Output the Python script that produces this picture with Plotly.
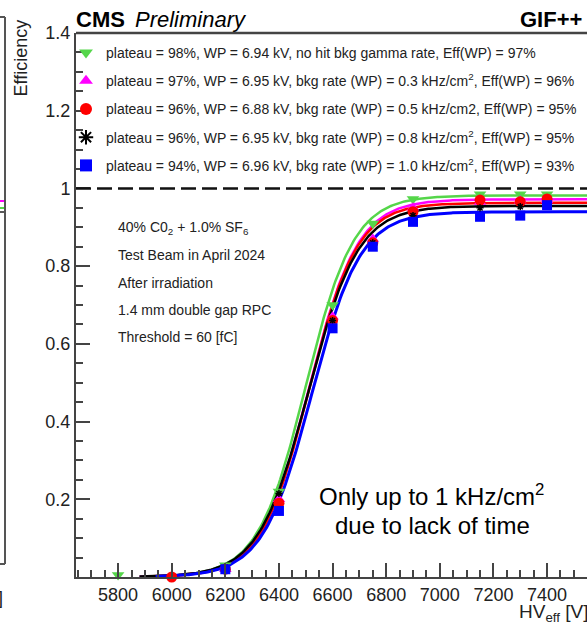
import numpy as np
import plotly.graph_objects as go

W, H = 587, 624
ML, MT, MB = 76, 33, 47          # plot area: x 76..587, y 33..577
PW, PH = W - ML, H - MT - MB

FONT = "Liberation Sans, Arial, Helvetica, sans-serif"
INK = "#222222"
AXC = "#444444"

# ---- measured efficiency points (HV_eff in V, efficiency) ----
hv_green = [5800, 6200, 6400, 6600, 6750, 6900, 7150, 7300, 7400]
eff_green = [0.005, 0.03, 0.22, 0.70, 0.91, 0.973, 0.985, 0.985, 0.985]

hv_magenta = [6200, 6400, 6600, 6750, 6900, 7150, 7300, 7400]
eff_magenta = [0.02, 0.20, 0.67, 0.87, 0.95, 0.965, 0.968, 0.97]

hv_red = [6000, 6200, 6400, 6600, 6750, 6900, 7150, 7300, 7400]
eff_red = [0.0, 0.02, 0.19, 0.66, 0.86, 0.94, 0.97, 0.966, 0.973]

hv_black = [6200, 6400, 6600, 6750, 6900, 7150, 7300, 7400]
eff_black = [0.025, 0.215, 0.66, 0.86, 0.93, 0.95, 0.953, 0.955]

hv_blue = [6200, 6400, 6600, 6750, 6900, 7150, 7300, 7400]
eff_blue = [0.02, 0.17, 0.64, 0.85, 0.914, 0.927, 0.93, 0.957]

# ---- sigmoid fit parameters: plateau, HV50 [V], slope [1/V], fit start [V] ----
fit_plateau = [0.982, 0.972, 0.963, 0.955, 0.940]
fit_hv50 = [6500, 6512, 6512, 6510, 6522]
fit_slope = [0.0112, 0.0110, 0.0112, 0.0108, 0.0110]
fit_start = [5880, 5880, 5900, 5880, 5940]

legend_labels = [
    "plateau = 98%, WP = 6.94 kV, no hit bkg gamma rate, Eff(WP) = 97%",
    "plateau = 97%, WP = 6.95 kV, bkg rate (WP) = 0.3 kHz/cm<sup>2</sup>, Eff(WP) = 96%",
    "plateau = 96%, WP = 6.88 kV, bkg rate (WP) = 0.5 kHz/cm2, Eff(WP) = 95%",
    "plateau = 96%, WP = 6.95 kV, bkg rate (WP) = 0.8 kHz/cm<sup>2</sup>, Eff(WP) = 95%",
    "plateau = 94%, WP = 6.96 kV, bkg rate (WP) = 1.0 kHz/cm<sup>2</sup>, Eff(WP) = 93%",
]
colors = ["#55d64a", "#ff00ff", "#ff0000", "#000000", "#0000ff"]
symbols = ["triangle-down", "triangle-up", "circle", "asterisk-open", "square"]
msizes = [11, 11, 11, 6, 10]

info_lines = [
    "40% C0<sub>2</sub> + 1.0% SF<sub>6</sub>",
    "Test Beam in April 2024",
    "After irradiation",
    "1.4 mm double gap RPC",
    "Threshold = 60 [fC]",
]

x_range = [5643, 7549]
y_range = [0, 1.4]

series = [
    (hv_green, eff_green),
    (hv_magenta, eff_magenta),
    (hv_red, eff_red),
    (hv_black, eff_black),
    (hv_blue, eff_blue),
]


def px(xp):
    return (xp - ML) / PW


def py(yp):
    return (MT + PH - yp) / PH


fig = go.Figure()

# fit curves
for i in range(5):
    xs = np.linspace(fit_start[i], x_range[1], 300)
    ys = fit_plateau[i] / (1 + np.exp(-fit_slope[i] * (xs - fit_hv50[i])))
    fig.add_trace(go.Scatter(
        x=xs, y=ys, mode="lines", showlegend=False, hoverinfo="skip",
        line=dict(color=colors[i], width=3 if i == 4 else 2.5),
    ))

# data points
for i, (xv, yv) in enumerate(series):
    mline = dict(color=colors[i], width=1.5) if symbols[i] == "asterisk-open" else dict(width=0)
    fig.add_trace(go.Scatter(
        x=xv, y=yv, mode="markers", name=legend_labels[i],
        legendgroup=f"g{i}", cliponaxis=False,
        marker=dict(symbol=symbols[i], size=msizes[i], color=colors[i], line=mline),
    ))

shapes = [
    # reference line at 100 %
    dict(type="line", xref="paper", yref="y", x0=0, x1=1, y0=1, y1=1,
         line=dict(color="#111111", width=2.5, dash="15px,6px")),
    # top frame
    dict(type="line", xref="paper", yref="paper", x0=0, x1=1, y0=1, y1=1,
         line=dict(color=AXC, width=2.5)),
    # neighbouring pad edge on the left
    dict(type="line", xref="paper", yref="paper", x0=px(5), x1=px(5), y0=py(17), y1=py(564),
         line=dict(color="#555555", width=2)),
    dict(type="line", xref="paper", yref="paper", x0=px(0), x1=px(5), y0=py(17), y1=py(17),
         line=dict(color="#555555", width=2)),
    dict(type="line", xref="paper", yref="paper", x0=px(0), x1=px(5), y0=py(564), y1=py(564),
         line=dict(color="#555555", width=2)),
    dict(type="line", xref="paper", yref="paper", x0=px(0), x1=px(4), y0=py(201), y1=py(201),
         line=dict(color="#ff00ff", width=2)),
    dict(type="line", xref="paper", yref="paper", x0=px(0), x1=px(4), y0=py(208), y1=py(208),
         line=dict(color="#55d64a", width=2)),
    dict(type="line", xref="paper", yref="paper", x0=px(0), x1=px(4), y0=py(212), y1=py(212),
         line=dict(color="#222222", width=1.5)),
]

ann = []
ann.append(dict(text="<b>CMS</b>", x=px(74), y=py(19), xanchor="left", yanchor="middle",
                font=dict(size=22, color="#000")))
ann.append(dict(text="<i>Preliminary</i>", x=px(133), y=py(19), xanchor="left", yanchor="middle",
                font=dict(size=22, color="#000")))
ann.append(dict(text="<b>GIF++</b>", x=px(584), y=py(19), xanchor="right", yanchor="middle",
                font=dict(size=22, color="#000")))
ann.append(dict(text="Efficiency", x=px(21), y=py(18), xanchor="center", yanchor="top",
                textangle=-90, font=dict(size=18, color=INK)))
ann.append(dict(text="HV<sub>eff</sub> [V]", x=px(590), y=py(613), xanchor="right", yanchor="middle",
                font=dict(size=19, color=INK)))
ann.append(dict(text="]", x=px(5), y=py(598), xanchor="right", yanchor="middle",
                font=dict(size=18, color=INK)))
for k, line in enumerate(info_lines):
    ann.append(dict(text=line, x=px(116), y=py(228 + 27.3 * k), xanchor="left", yanchor="middle",
                    font=dict(size=14, color=INK)))
ann.append(dict(text="Only up to 1 kHz/cm<sup>2</sup>", x=px(431), y=py(495), xanchor="center",
                yanchor="middle", font=dict(size=24, color="#000")))
ann.append(dict(text="due to lack of time", x=px(432), y=py(525), xanchor="center",
                yanchor="middle", font=dict(size=24, color="#000")))
for a in ann:
    a.update(xref="paper", yref="paper", showarrow=False)

fig.update_layout(
    width=W, height=H,
    margin=dict(l=ML, r=0, t=MT, b=MB, pad=0, autoexpand=False),
    paper_bgcolor="white", plot_bgcolor="white",
    font=dict(family=FONT, color=INK),
    showlegend=True,
    legend=dict(x=px(66), y=py(37), xanchor="left", yanchor="top",
                bgcolor="rgba(0,0,0,0)", font=dict(size=14, color=INK),
                traceorder="grouped", tracegroupgap=7, itemsizing="constant"),
    shapes=shapes, annotations=ann,
    xaxis=dict(range=x_range, showgrid=False, zeroline=False, showline=True,
               linecolor=AXC, linewidth=2, ticks="inside", ticklen=14, tickwidth=1.5,
               tickcolor=AXC, tickmode="linear", tick0=5800, dtick=200,
               tickfont=dict(size=18, color=INK),
               minor=dict(ticks="inside", ticklen=7, dtick=50, tick0=5800,
                          tickcolor=AXC, tickwidth=1.5)),
    yaxis=dict(range=y_range, showgrid=False, zeroline=False, showline=True,
               linecolor=AXC, linewidth=2, ticks="inside", ticklen=14, tickwidth=1.5,
               tickcolor=AXC, tickmode="array", tickvals=[0.2, 0.4, 0.6, 0.8, 1, 1.2, 1.4],
               ticktext=["0.2", "0.4", "0.6", "0.8", "1", "1.2", "1.4"],
               tickfont=dict(size=18, color=INK),
               minor=dict(ticks="inside", ticklen=7, dtick=0.05, tick0=0,
                          tickcolor=AXC, tickwidth=1.5)),
)

fig.write_html("out.html")
